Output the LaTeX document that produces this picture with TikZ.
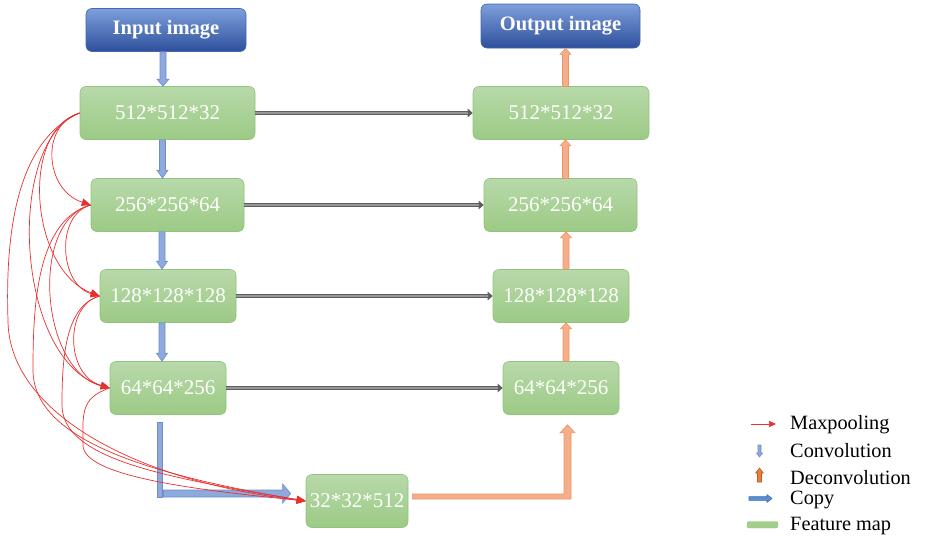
\documentclass[tikz,border=0pt]{standalone}
\usepackage{fontspec}
\setmainfont{Liberation Serif}
\usetikzlibrary{arrows.meta,calc}

\definecolor{fmtop}{HTML}{B8D9AA}
\definecolor{fmbot}{HTML}{9CCA85}
\definecolor{fmedge}{HTML}{90C37B}
\definecolor{iotop}{HTML}{7D9FDB}
\definecolor{iobot}{HTML}{2E509C}
\definecolor{ioedge}{HTML}{4467B0}
\definecolor{convfill}{HTML}{8EA9DB}
\definecolor{convedge}{HTML}{6D8DCC}
\definecolor{defill}{HTML}{F5AE8A}
\definecolor{deedge}{HTML}{EF9466}
\definecolor{poolred}{HTML}{E8302C}
\definecolor{cpdark}{HTML}{5E5E5E}
\definecolor{cplight}{HTML}{979797}
\definecolor{legdefill}{HTML}{E8803F}
\definecolor{legdeedge}{HTML}{C05A1E}
\definecolor{legcpfill}{HTML}{5B8FD0}
\definecolor{legcpedge}{HTML}{3C6DB0}
\definecolor{legfm}{HTML}{A3CF8C}

% vertical block arrow: style, start, end, shaft half width, head half width, head length
\newcommand\vblk[6]{%
  \filldraw[#1] let \p1=(#2), \p2=(#3), \n1={ifthenelse(\y2>\y1,1,-1)} in
    ({\x1-#4},\y1) -- ({\x1-#4},{\y2-(\n1)*#6}) -- ({\x1-#5},{\y2-(\n1)*#6})
    -- (\x1,\y2) -- ({\x1+#5},{\y2-(\n1)*#6}) -- ({\x1+#4},{\y2-(\n1)*#6})
    -- ({\x1+#4},\y1) -- cycle;}
% horizontal block arrow (left to right): style, start, end, shaft half width, head half width, head length
\newcommand\hblk[6]{%
  \filldraw[#1] let \p1=(#2), \p2=(#3) in
    (\x1,{\y1+#4}) -- ({\x2-#6},{\y1+#4}) -- ({\x2-#6},{\y1+#5}) -- (\x2,\y1)
    -- ({\x2-#6},{\y1-#5}) -- ({\x2-#6},{\y1-#4}) -- (\x1,{\y1-#4}) -- cycle;}

\tikzset{
  fmap/.style={rounded corners=6pt, top color=fmtop, bottom color=fmbot,
    draw=fmedge, line width=0.6pt, text=white, inner sep=0pt,
    minimum height=53pt, font=\fontsize{21}{24}\selectfont},
  iobox/.style={rounded corners=6pt, top color=iotop, bottom color=iobot,
    draw=ioedge, line width=0.6pt, text=white, inner sep=0pt,
    font=\fontsize{20.5}{24}\selectfont\bfseries},
  pool/.style={draw=poolred, line width=0.7pt, -{Triangle[length=9pt,width=7.5pt]}},
  conv/.style={fill=convfill, draw=convedge, line width=0.6pt},
  deconv/.style={fill=defill, draw=deedge, line width=0.6pt},
  skip/.style={draw=cpdark, line width=3.6pt, -{Triangle[length=5pt,width=8.5pt]},
    postaction={draw=cplight, line width=1.8pt, shorten >=5pt, -}},
  legtext/.style={anchor=base west, inner sep=0pt, font=\fontsize{20.3}{22}\selectfont}
}

\begin{document}
\begin{tikzpicture}[x=1pt, y=-1pt]
\useasboundingbox (0,0) rectangle (925,538);

% input / output
\node[iobox, minimum width=160pt, minimum height=43pt] (in) at (166,30) {Input image};
\node[iobox, minimum width=159pt, minimum height=44pt] (out) at (560.5,26) {Output image};

% contracting side
\node[fmap, minimum width=175pt] (l1) at (167.5,113) {512*512*32};
\node[fmap, minimum width=153pt] (l2) at (167.5,205) {256*256*64};
\node[fmap, minimum width=136pt] (l3) at (168,296) {128*128*128};
\node[fmap, minimum width=116pt] (l4) at (168,388) {64*64*256};
\node[fmap, minimum width=102pt] (bt) at (357,501) {32*32*512};

% expanding side
\node[fmap, minimum width=176pt] (r1) at (561,113) {512*512*32};
\node[fmap, minimum width=153pt] (r2) at (560.5,205) {256*256*64};
\node[fmap, minimum width=136pt] (r3) at (561,296) {128*128*128};
\node[fmap, minimum width=116pt] (r4) at (561,388) {64*64*256};

% skip connections
\draw[skip] (l1.east) -- (r1.west);
\draw[skip] (l2.east) -- (r2.west);
\draw[skip] (l3.east) -- (r3.west);
\draw[skip] (l4.east) -- (r4.west);

% convolutions
\vblk{conv}{[xshift=-3pt]in.south}{[xshift=-3pt]l1.north}{3pt}{6pt}{7pt}
\vblk{conv}{[xshift=-5pt]l1.south}{[xshift=-5pt]l2.north}{3pt}{5.5pt}{8pt}
\vblk{conv}{[xshift=-5.5pt]l2.south}{[xshift=-5.5pt]l3.north}{3pt}{5.5pt}{8pt}
\vblk{conv}{[xshift=-6pt]l3.south}{[xshift=-6pt]l4.north}{3pt}{5.5pt}{8pt}

% copy down to the bottleneck
\filldraw[conv] ($(l4.south)+(-11,7)$) rectangle ($(l4.south)+(-6,82)$);
\coordinate (cpa) at ($(l4.south |- bt.west)+(-4.5,-7.5)$);
\coordinate (cpb) at ($(bt.west)+(-15,-7.5)$);
\hblk{conv}{cpa}{cpb}{3.5pt}{9.5pt}{8pt}

% deconvolutions
\coordinate (dvx) at ($(r4.south)+(6.5,0)$);
\filldraw[deconv] ($(bt.east)+(4,-7)$) -- ($(dvx |- bt.east)+(-3.5,-7)$)
  -- ($(dvx)+(-3.5,18)$) -- ($(dvx)+(-7.5,18)$) -- ($(dvx)+(0,10)$)
  -- ($(dvx)+(7.5,18)$) -- ($(dvx)+(3.5,18)$) -- ($(dvx |- bt.east)+(3.5,-2)$)
  -- ($(bt.east)+(4,-2)$) -- cycle;
\vblk{deconv}{[xshift=5pt]r4.north}{[xshift=5pt]r3.south}{3pt}{5.5pt}{6pt}
\vblk{deconv}{[xshift=5pt]r3.north}{[xshift=5pt]r2.south}{3pt}{5.5pt}{6pt}
\vblk{deconv}{[xshift=5pt]r2.north}{[xshift=5pt]r1.south}{3pt}{5.5pt}{6pt}
\vblk{deconv}{[xshift=4.5pt]r1.north}{[xshift=4.5pt]out.south}{3pt}{5.5pt}{6pt}

% max pooling paths
\draw[pool] (l1.west) .. controls +(-40,12) and +(-46,-15) .. (l2.west);
\draw[pool] (l1.west) .. controls +(-60,17) and +(-70,-26) .. (l3.west);
\draw[pool] (l1.west) .. controls +(-75,27) and +(-95,-28) .. (l4.west);
\draw[pool] (l1.west) .. controls +(-62,27) and +(-3,-90) .. (8,320)
  .. controls +(0,90) and +(-176,-21) .. (bt.west);
\draw[pool] (l2.west) .. controls +(-36,10) and +(-40,-11) .. (l3.west);
\draw[pool] (l2.west) .. controls +(-61,15) and +(-70,-18) .. (l4.west);
\draw[pool] (l2.west) .. controls +(-55,15) and +(0,-60) .. (33,370)
  .. controls +(0,70) and +(-156,-26) .. (bt.west);
\draw[pool] (l3.west) .. controls +(-35,9) and +(-45,-13) .. (l4.west);
\draw[pool] (l3.west) .. controls +(-35,10) and +(0,-45) .. (62,405)
  .. controls +(0,55) and +(-136,-23) .. (bt.west);
\draw[pool] (l4.west) .. controls +(-30,10) and +(0,-30) .. (83,445)
  .. controls +(0,30) and +(-120,-12) .. (bt.west);

% legend
\coordinate (kpa) at (751,424);
\coordinate (kpb) at (776,424);
\draw[draw=poolred, line width=0.7pt, -{Triangle[length=7pt,width=6pt]}] (kpa) -- (kpb);
\node[legtext] (kp) at (790,429) {Maxpooling};

\coordinate (kca) at (759.5,445);
\coordinate (kcb) at (759.5,457);
\vblk{conv}{kca}{kcb}{1.5pt}{3pt}{4pt}
\node[legtext] (kc) at (790,457) {Convolution};

\coordinate (kda) at (759.5,482);
\coordinate (kdb) at (759.5,468);
\vblk{fill=legdefill, draw=legdeedge, line width=0.6pt}{kda}{kdb}{2pt}{3.8pt}{5pt}
\node[legtext] (kd) at (790,484) {Deconvolution};

\coordinate (kya) at (749,498.5);
\coordinate (kyb) at (772,498.5);
\hblk{fill=legcpfill, draw=legcpedge, line width=0.6pt}{kya}{kyb}{1.8pt}{3.8pt}{5pt}
\node[legtext] (ky) at (790,504) {Copy};

\filldraw[fill=legfm, draw=fmedge, line width=0.4pt, rounded corners=2pt]
  (747,521.5) rectangle (778,528);
\node[legtext] (kf) at (790,530) {Feature map};
\end{tikzpicture}
\end{document}
